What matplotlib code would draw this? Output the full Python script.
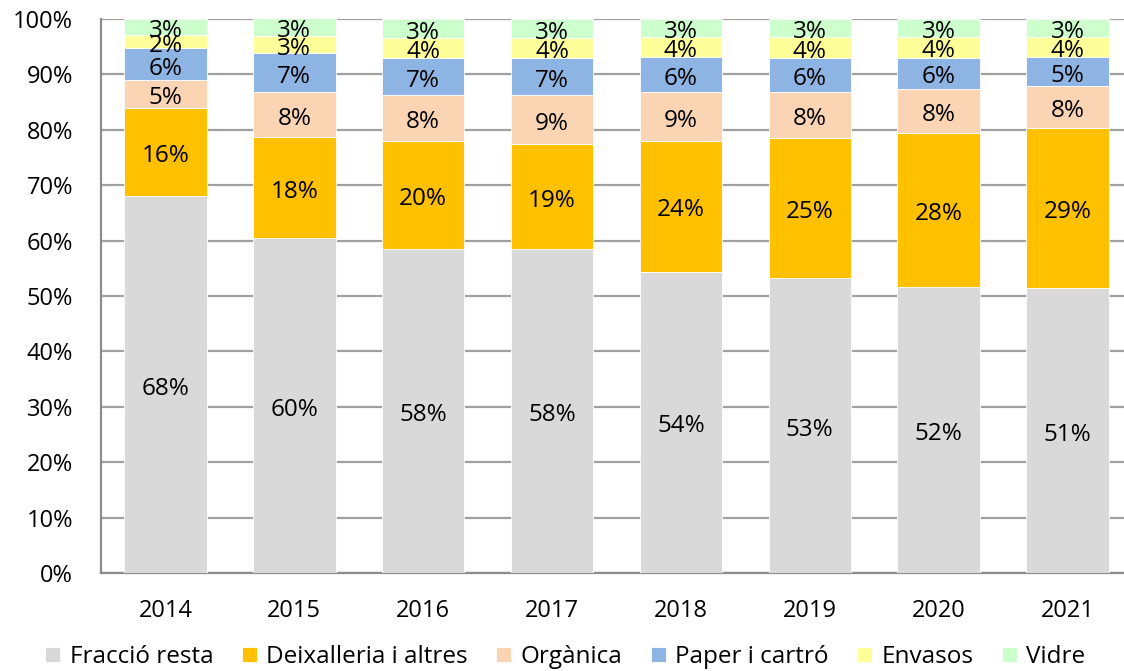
import matplotlib
matplotlib.use("Agg")
import matplotlib.pyplot as plt
import matplotlib.transforms as mtransforms
import numpy as np

plt.rcParams['font.family'] = ['Open Sans', 'DejaVu Sans']

years = ["2014", "2015", "2016", "2017", "2018", "2019", "2020", "2021"]
series_names = ["Fracció resta", "Deixalleria i altres", "Orgànica",
                "Paper i cartró", "Envasos", "Vidre"]
fraccio_resta = [68.1, 60.5, 58.4, 58.4, 54.4, 53.3, 51.7, 51.4]
deixalleria = [15.9, 18.2, 19.6, 19.0, 23.6, 25.3, 27.8, 28.9]
organica = [4.9, 8.1, 8.3, 8.9, 8.8, 8.3, 7.9, 7.6]
paper = [5.8, 7.0, 6.6, 6.6, 6.4, 6.0, 5.6, 5.3]
envasos = [2.4, 3.2, 3.7, 3.7, 3.6, 3.9, 3.8, 3.6]
vidre = [2.9, 3.2, 3.4, 3.4, 3.2, 3.2, 3.2, 3.2]
colors = ["#D9D9D9", "#FFC000", "#FBD4B4", "#8EB4E3", "#FFFF99", "#CCFFCC"]

data = [fraccio_resta, deixalleria, organica, paper, envasos, vidre]

W, H = 1124, 671
fig = plt.figure(figsize=(W / 100, H / 100), dpi=100)
ax_left, ax_right, ax_top, ax_bottom = 101, 1132, 19, 573
ax = fig.add_axes([ax_left / W, 1 - ax_bottom / H,
                   (ax_right - ax_left) / W, (ax_bottom - ax_top) / H])

shift = mtransforms.offset_copy(ax.transData, fig=fig, x=0, y=-3, units="points")

x = np.arange(len(years))
bottom = np.zeros(len(years))
handles = []
for name, vals, col in zip(series_names, data, colors):
    vals = np.array(vals)
    b = ax.bar(x, vals, 0.64, bottom=bottom, color=col, edgecolor="white",
               linewidth=0.6, label=name, zorder=3)
    handles.append(b)
    for xi, v, bt in zip(x, vals, bottom):
        ax.text(xi, bt + v / 2, f"{round(v):.0f}%", ha="center", va="center",
                fontsize=17.5, color="black", zorder=4, transform=shift)
    bottom += vals

ax.set_xlim(-0.5, 7.5)
ax.set_ylim(0, 100)
ax.set_yticks(np.arange(0, 101, 10))
ax.set_yticklabels([f"{v}%" for v in range(0, 101, 10)])
ax.set_xticks(x)
ax.set_xticklabels(years)
ax.tick_params(axis="both", length=0, labelsize=17, colors="black")
ax.tick_params(axis="y", pad=20)
ax.tick_params(axis="x", pad=19)
ax.grid(axis="y", color="#A0A0A0", linewidth=1.6, zorder=0)
ax.set_axisbelow(True)
for s in ["top", "right"]:
    ax.spines[s].set_visible(False)
for s in ["left", "bottom"]:
    ax.spines[s].set_color("#8C8C8C")
    ax.spines[s].set_linewidth(1.6)

fig.legend(handles=handles, labels=series_names, loc="center",
           bbox_to_anchor=(0.503, 1 - 657 / H), ncol=6, frameon=False,
           fontsize=17.5, handlelength=0.62, handleheight=0.62,
           handletextpad=0.4, columnspacing=1.15, borderaxespad=0)

fig.savefig("out.png", dpi=100)
